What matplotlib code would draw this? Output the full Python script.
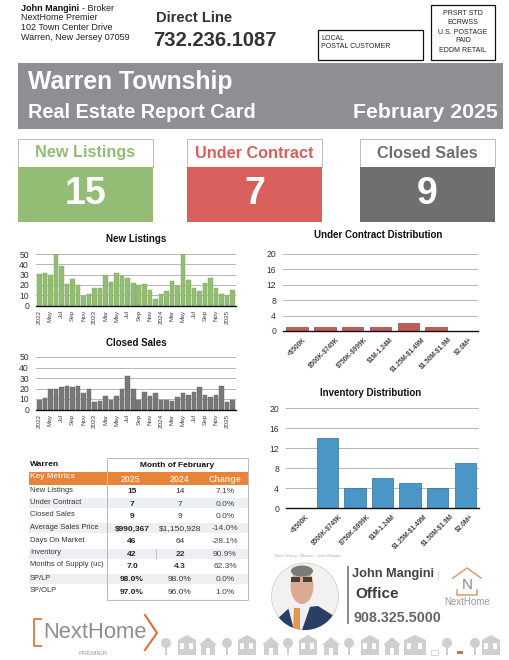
import matplotlib
matplotlib.use("Agg")
import matplotlib.pyplot as plt
from matplotlib.patches import Rectangle, Circle, Polygon, Ellipse

plt.rcParams['font.family'] = ['Liberation Sans', 'DejaVu Sans']
plt.rcParams['text.parse_math'] = False

W, H = 510, 660

month_labels = ['2022', 'May', 'Jul', 'Sep', 'Nov', '2023', 'Mar', 'May', 'Jul', 'Sep', 'Nov',
                '2024', 'Mar', 'May', 'Jul', 'Sep', 'Nov', '2025']
new_listings = [31, 32, 30, 50, 38, 21, 26, 20, 9, 11, 17, 17, 30, 23, 32, 29, 27, 22,
                20, 21, 15, 6, 11, 14, 24, 19, 50, 25, 17, 14, 22, 27, 17, 11, 10, 15]
closed_sales = [9, 11, 20, 20, 21, 22, 21, 22, 16, 20, 7, 8, 13, 9, 13, 20, 32, 20,
                9, 17, 13, 16, 9, 9, 8, 12, 16, 14, 17, 21, 14, 12, 14, 22, 7, 9]

price_bands = ['<$500K', '$500K-$749K', '$750K-$999K', '$1M-1.24M', '$1.25M-$1.49M', '$1.50M-$1.9M', '$2.0M+']
under_contract = [1, 1, 1, 1, 2, 1, 0]
inventory = [0, 14, 4, 6, 5, 4, 9]

metric_names = ['New Listings', 'Under Contract', 'Closed Sales', 'Average Sales Price', 'Days On Market',
                'Inventory', 'Months of Supply (uc)', 'SP/LP', 'SP/OLP']
col_2025 = ['15', '7', '9', '$990,367', '46', '42', '7.0', '98.0%', '97.0%']
col_2024 = ['14', '7', '9', '$1,150,928', '64', '22', '4.3', '98.0%', '96.0%']
col_change = ['7.1%', '0.0%', '0.0%', '-14.0%', '-28.1%', '90.9%', '62.3%', '0.0%', '1.0%']
bold_2024 = ['22', '4.3']

GREEN = '#93BC74'
RED = '#D8605C'
DARK = '#6F6F70'
BANNER = '#8F8F93'
ORANGE = '#E8833A'
ICON = '#CFCFCF'

fig = plt.figure(figsize=(W / 100, H / 100), dpi=100)

# page layer in pixel coordinates
pg = fig.add_axes([0, 0, 1, 1])
pg.set_xlim(0, W)
pg.set_ylim(H, 0)
pg.axis('off')


def txt(x, y, s, size, color='#222222', weight='normal', ha='left', **kw):
    pg.text(x, y, s, fontsize=size, color=color, fontweight=weight, ha=ha, va='center', **kw)


def box(x0, y0, x1, y1, fc='none', ec='none', lw=1.0):
    return pg.add_patch(Rectangle((x0, y0), x1 - x0, y1 - y0, fc=fc, ec=ec, lw=lw))


# header
txt(21, 8.5, 'John Mangini', 6.5, '#111111', 'bold')
txt(82, 8.5, '- Broker', 6.5, '#222222')
txt(21, 18, 'NextHome Premier', 6.5)
txt(21, 28, '102 Town Center Drive', 6.5)
txt(21, 38, 'Warren, New Jersey 07059', 6.5)
txt(156, 18, 'Direct Line', 10.6, '#333333', 'bold')
txt(153, 40, '732.236.1087', 14.5, '#333333', 'bold')

box(318, 30, 423, 60, ec='#111111', lw=0.9)
txt(321, 38.5, 'LOCAL', 5.0)
txt(321, 46.5, 'POSTAL CUSTOMER', 5.0)
box(431, 5, 495, 60, ec='#111111', lw=0.9)
for yy, line in zip([13.5, 23, 32, 41, 50.5], ['PRSRT STD', 'ECRWSS', 'U.S. POSTAGE', 'PAID', 'EDDM RETAIL']):
    txt(463, yy, line, 5.0, ha='center')

# banner
box(18, 63, 503, 129, fc=BANNER)
txt(28, 82, 'Warren Township', 17.8, 'white', 'bold')
txt(28, 113, 'Real Estate Report Card', 14.3, 'white', 'bold')
txt(498, 112.5, 'February 2025', 15.3, 'white', 'bold', ha='right')

# summary cards
cards = [(18, 153, 'New Listings', '15', GREEN, GREEN),
         (187, 322, 'Under Contract', '7', RED, RED),
         (360, 495, 'Closed Sales', '9', DARK, DARK)]
for x0, x1, name, val, col, tcol in cards:
    box(x0, 139, x1, 167, fc='white', ec='#BDBDBD', lw=0.7)
    box(x0, 167, x1, 222, fc=col)
    txt((x0 + x1) / 2, 153, name, 11.7, tcol, 'bold', ha='center')
    txt((x0 + x1) / 2, 194.5, val, 27, 'white', 'bold', ha='center')


def add_axes_px(x0, y_top, x1, y_bottom):
    return fig.add_axes([x0 / W, 1 - y_bottom / H, (x1 - x0) / W, (y_bottom - y_top) / H])


def style_axes(ax, ymax, step, size):
    ax.set_ylim(0, ymax)
    ax.set_yticks(range(0, ymax + 1, step))
    ax.tick_params(axis='y', length=0, labelsize=size, pad=5, labelcolor='#333333')
    ax.grid(axis='y', color='#B5B5B5', lw=0.7)
    ax.set_axisbelow(True)
    for s in ['top', 'left', 'right']:
        ax.spines[s].set_visible(False)
    ax.spines['bottom'].set_color('#111111')
    ax.spines['bottom'].set_linewidth(1.0)
    ax.patch.set_alpha(0)


def month_chart(box_px, values, color, edge, title, title_y):
    ax = add_axes_px(*box_px)
    ax.bar(range(len(values)), values, width=0.82, color=color, edgecolor=edge, lw=0.3)
    ax.set_xlim(-0.6, len(values) - 0.4)
    style_axes(ax, 50, 10, 6.2)
    ax.set_xticks(range(0, len(values), 2))
    ax.set_xticklabels(month_labels, rotation=90, fontsize=4.6, color='#444444')
    ax.tick_params(axis='x', length=0, pad=3)
    txt(136, title_y, title, 7.0, '#111111', 'bold', ha='center')


def band_chart(box_px, values, color, edge, title, title_x, title_y):
    ax = add_axes_px(*box_px)
    ax.bar(range(len(values)), values, width=0.77, color=color, edgecolor=edge, lw=0.5)
    ax.set_xlim(-0.5, len(values) - 0.5)
    style_axes(ax, 20, 4, 6.2)
    ax.set_xticks(range(len(values)))
    ax.set_xticklabels(price_bands, rotation=45, ha='center', fontsize=4.7,
                       fontweight='bold', color='#444444')
    ax.tick_params(axis='x', length=0, pad=4)
    txt(title_x, title_y, title, 7.0, '#111111', 'bold', ha='center')


month_chart((36, 254, 236, 305.5), new_listings, '#93BC74', '#7FA862', 'New Listings', 238.5)
month_chart((36, 357, 236, 409.5), closed_sales, '#787878', '#666666', 'Closed Sales', 342.5)
band_chart((283, 254, 478, 331), under_contract, '#C25A58', '#8E4545', 'Under Contract Distribution', 378, 234.5)
band_chart((286, 408, 479, 508), inventory, '#4A97C7', '#2F6E94', 'Inventory Distribution', 371, 393)

# metrics table
rows_y = [490, 502.5, 514.5, 527.5, 540, 553, 565, 578, 591]
txt(30, 464, 'Warren', 6.0, '#111111', 'bold')
txt(177, 465.5, 'Month of February', 6.0, '#111111', 'bold', ha='center')
box(29, 472, 248, 485, fc=ORANGE)
txt(30, 476.5, 'Key Metrics', 5.8, '#F5E3C8', 'bold')
for cx, lab in zip([131, 180, 225], ['2025', '2024', 'Change']):
    txt(cx, 479, lab, 6.4, '#F5E3C8', 'bold', ha='center')
for i, yy in enumerate(rows_y):
    if i % 2 == 1:
        box(29, yy - 4.5, 248, yy + 5.5, fc='#EDF0F3')
    txt(30, yy, metric_names[i], 5.4, '#333333')
    txt(132, yy + 1.5, col_2025[i], 6.0, '#222222', 'bold', ha='center')
    b = 'bold' if col_2024[i] in bold_2024 and i in (5, 6) else 'normal'
    txt(180, yy + 1.5, col_2024[i], 6.0, '#333333', b, ha='center')
    txt(225, yy + 1.5, col_change[i], 6.0, '#444444', ha='center')
box(107, 458, 248, 600, ec='#BDBDBD', lw=0.8)
pg.plot([156, 156], [549, 559], color='#BDBDBD', lw=0.6)

# agent block
txt(275, 556.5, 'New Jersey - Warren - John Mangini', 3.0, '#AAAAAA')
photo = Circle((305, 596.5), 33.5, fc='#F3F1EF', ec='#CCCCCC', lw=0.5)
pg.add_patch(photo)
portrait = [
    Polygon([[274, 622], [288, 609], [318, 606], [334, 616], [325, 632], [285, 632]], fc='#2A3F66', ec='none'),
    Polygon([[288, 607], [311, 604], [302, 630], [294, 630]], fc='#EFEFEF', ec='none'),
    Polygon([[294, 608], [300, 608], [300, 630], [293, 630]], fc='#E8964E', ec='none'),
    Ellipse((302, 586), 23, 36, fc='#D9AC92', ec='none'),
    Ellipse((302, 571), 22, 11, fc='#7A7A78', ec='none'),
]
for p in portrait:
    pg.add_patch(p)
    p.set_clip_path(photo)
box(291, 577, 300, 582, fc='#4A4038')
box(303, 577, 312, 582, fc='#4A4038')
pg.plot([348, 348], [567, 623], color='#8A8A8A', lw=1.4)
txt(352, 574, 'John Mangini', 9.2, '#444444', 'bold')
txt(355, 594, 'Office', 11, '#3A3A3A', 'bold')
txt(354, 618, '908.325.5000', 10.3, '#666666', 'bold')
pg.plot([438, 438], [571, 580], color='#CCCCCC', lw=0.5)
pg.plot([453, 467, 481], [578, 568, 578], color='#D9A27E', lw=1.2)
pg.plot([457, 457, 477, 477], [590, 595, 595, 590], color='#D9A27E', lw=1.2)
txt(467, 585, 'N', 11, '#8A8A8A', ha='center')
txt(467, 602, 'NextHome', 7.0, '#999999', ha='center')

# NextHome Premier logo
pg.plot([41, 34, 34, 41], [619, 619, 646, 646], color='#D98250', lw=1.4)
pg.plot([145, 157, 145], [615, 633, 650], color='#D9703E', lw=1.5)
txt(43, 633, 'NextHome', 15.8, '#8E8E8E')
txt(93, 653.5, 'PREMIER', 4.6, '#9A9A9A', ha='center')


# neighbourhood strip
def house(x):
    pg.add_patch(Polygon([[x - 9, 645], [x, 637], [x + 9, 645]], fc=ICON, ec='none'))
    box(x - 7, 645, x + 7, 655, fc=ICON)
    box(x - 2, 648, x + 2, 655, fc='white')


def tree(x):
    pg.add_patch(Circle((x, 643), 5, fc=ICON, ec='none'))
    box(x - 0.8, 646, x + 0.8, 655, fc=ICON)


def block(x, w=9):
    pg.add_patch(Polygon([[x - w, 640], [x, 635], [x + w, 640]], fc=ICON, ec='none'))
    box(x - w, 640, x + w, 655, fc=ICON)
    for dx in (-w / 2, w / 2):
        box(x + dx - 2, 643, x + dx + 2, 649, fc='white')


for x in [208, 271, 331, 392]:
    house(x)
for x in [166, 227, 288, 349, 447, 475]:
    tree(x)
for x in [187, 247, 308, 370, 491]:
    block(x)
block(415, 11)
box(431, 650, 438, 655, ec=ICON, lw=0.6)
box(457, 651, 463, 654, fc='#C9763F')

fig.savefig('out.png', dpi=100)
